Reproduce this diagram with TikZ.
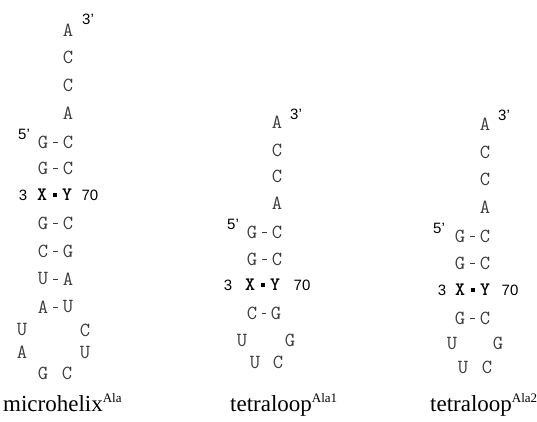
\documentclass[tikz,border=0pt]{standalone}
\usepackage{fontspec}
\setmainfont{Liberation Serif}
\setsansfont{Liberation Sans}
\usepackage{tikz}
\usetikzlibrary{positioning}
\definecolor{basegray}{RGB}{60,60,60}
\tikzstyle{base} = [
    inner sep=0pt,
    text=basegray,
    font=\ttfamily\fontsize{20}{20}\selectfont
]
\tikzstyle{keybase} = [
    inner sep=0pt,
    font=\ttfamily\bfseries\fontsize{19}{19}\selectfont
]
\tikzstyle{endlabel} = [
    inner sep=0pt,
    font=\sffamily\fontsize{15}{15}\selectfont
]
\tikzstyle{bond} = [
    line width=0.7pt,
    color=basegray,
    shorten <=5pt,
    shorten >=5pt
]
\tikzstyle{pairdot} = [
    rectangle,
    fill=black,
    minimum size=4.5pt,
    inner sep=0pt
]
\tikzstyle{caption} = [
    inner sep=0pt,
    anchor=base west,
    font=\fontsize{23}{23}\selectfont
]
\newcommand{\supname}[1]{\raisebox{9pt}{\fontsize{13}{13}\selectfont #1}}

\begin{document}
\begin{tikzpicture}[x=1pt, y=-1pt]
        \useasboundingbox (0,0) rectangle (537,421);

        % microhelix: acceptor end
        \node[base] (m1) at (68,30) {A};
        \node[base] (m2) at (68,57) {C};
        \node[base] (m3) at (68,85) {C};
        \node[base] (m4) at (68,113) {A};
        \node[endlabel] (m3p) at (88,19) {3'};
        \node[endlabel] (m5p) at (24,134) {5'};
        % microhelix: stem
        \node[base] (m5l) at (43,142) {G};  \node[base] (m5r) at (68,142) {C};
        \node[base] (m6l) at (43,168) {G};  \node[base] (m6r) at (68,168) {C};
        \node[keybase] (mxl) at (42,195) {X};  \node[keybase] (mxr) at (67,195) {Y};
        \node[pairdot] (mxd) at (55,195) {};
        \node[endlabel] (mn3) at (23,195) {3};
        \node[endlabel] (mn70) at (90,195) {70};
        \node[base] (m8l) at (43,223) {G};  \node[base] (m8r) at (68,223) {C};
        \node[base] (m9l) at (43,251) {C};  \node[base] (m9r) at (68,251) {G};
        \node[base] (m10l) at (43,279) {U}; \node[base] (m10r) at (68,279) {A};
        \node[base] (m11l) at (43,307) {A}; \node[base] (m11r) at (68,307) {U};
        % microhelix: loop
        \node[base] (ml1) at (22,330) {U};  \node[base] (ml6) at (85,330) {C};
        \node[base] (ml2) at (22,352) {A};  \node[base] (ml5) at (85,352) {U};
        \node[base] (ml3) at (43,373) {G};  \node[base] (ml4) at (67,373) {C};
        \node[caption] (mcap) at (3,411) {microhelix\supname{Ala}};

        % tetraloop Ala1: acceptor end
        \node[base] (a1) at (277,122) {A};
        \node[base] (a2) at (277,150) {C};
        \node[base] (a3) at (277,176) {C};
        \node[base] (a4) at (277,203) {A};
        \node[endlabel] (a3p) at (296,114) {3'};
        \node[endlabel] (a5p) at (233,224) {5'};
        % tetraloop Ala1: stem
        \node[base] (a5l) at (252,232) {G};  \node[base] (a5r) at (277,232) {C};
        \node[base] (a6l) at (252,259) {G};  \node[base] (a6r) at (277,259) {C};
        \node[keybase] (axl) at (250,285) {X};  \node[keybase] (axr) at (275,285) {Y};
        \node[pairdot] (axd) at (263,285) {};
        \node[endlabel] (an3) at (228,285) {3};
        \node[endlabel] (an70) at (302,285) {70};
        \node[base] (a8l) at (252,313) {C};  \node[base] (a8r) at (276,313) {G};
        % tetraloop Ala1: loop
        \node[base] (al1) at (242,340) {U};  \node[base] (al4) at (290,340) {G};
        \node[base] (al2) at (255,362) {U};  \node[base] (al3) at (278,362) {C};
        \node[caption] (acap) at (230,411) {tetraloop\supname{Ala1}};

        % tetraloop Ala2: acceptor end
        \node[base] (b1) at (485,124) {A};
        \node[base] (b2) at (485,152) {C};
        \node[base] (b3) at (485,179) {C};
        \node[base] (b4) at (485,207) {A};
        \node[endlabel] (b3p) at (504,115) {3'};
        \node[endlabel] (b5p) at (439,228) {5'};
        % tetraloop Ala2: stem
        \node[base] (b5l) at (460,236) {G};  \node[base] (b5r) at (485,236) {C};
        \node[base] (b6l) at (460,263) {G};  \node[base] (b6r) at (485,263) {C};
        \node[keybase] (bxl) at (460,290) {X};  \node[keybase] (bxr) at (485,290) {Y};
        \node[pairdot] (bxd) at (473,290) {};
        \node[endlabel] (bn3) at (442,290) {3};
        \node[endlabel] (bn70) at (510,290) {70};
        \node[base] (b8l) at (460,318) {G};  \node[base] (b8r) at (485,318) {C};
        % tetraloop Ala2: loop
        \node[base] (bl1) at (452,343) {U};  \node[base] (bl4) at (498,343) {G};
        \node[base] (bl2) at (463,367) {U};  \node[base] (bl3) at (487,367) {C};
        \node[caption] (bcap) at (430,411) {tetraloop\supname{Ala2}};

        % Base pairs
        \foreach \p in {m5,m6,m8,m9,m10,m11,a5,a6,a8,b5,b6,b8}
            \draw[bond] (\p l) -- (\p r);
    \end{tikzpicture}
\end{document}
